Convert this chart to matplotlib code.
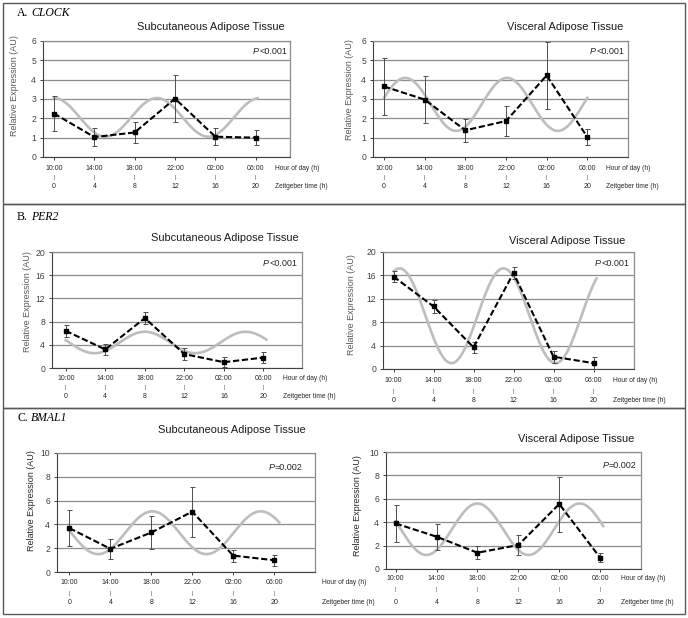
import numpy as np
import matplotlib
matplotlib.use('Agg')
import matplotlib.pyplot as plt
from matplotlib.patches import Rectangle
from matplotlib.transforms import blended_transform_factory

plt.rcParams['font.family'] = ['Liberation Sans', 'DejaVu Sans']

# data
hours = ['10:00', '14:00', '18:00', '22:00', '02:00', '06:00']
zt = [0, 4, 8, 12, 16, 20]

clock_sat = [2.25, 1.03, 1.27, 3.02, 1.05, 1.0]
clock_sat_err = [0.92, 0.48, 0.52, 1.22, 0.45, 0.4]
clock_vat = [3.65, 2.97, 1.38, 1.86, 4.22, 1.03]
clock_vat_err = [1.47, 1.2, 0.6, 0.77, 1.72, 0.4]
per2_sat = [6.4, 3.2, 8.6, 2.4, 1.0, 1.8]
per2_sat_err = [1.0, 1.0, 1.0, 1.0, 0.9, 1.0]
per2_vat = [15.8, 10.7, 3.7, 16.4, 2.1, 1.0]
per2_vat_err = [1.0, 1.1, 1.0, 1.0, 1.0, 1.0]
bmal1_sat = [3.68, 1.95, 3.32, 5.07, 1.38, 0.99]
bmal1_sat_err = [1.5, 0.85, 1.4, 2.1, 0.5, 0.45]
bmal1_vat = [3.89, 2.76, 1.39, 2.05, 5.55, 0.97]
bmal1_vat_err = [1.6, 1.1, 0.55, 0.85, 2.35, 0.4]

# fitted cosinor curves (mesor, amplitude, period h, acrophase ZT h, last ZT)
cos_mesor = [2.05, 2.72, 4.4, 9.1, 3.3, 3.4]
cos_amp = [1.0, 1.37, 1.85, 8.1, 1.8, 2.2]
cos_period = [10.2, 10.0, 10.2, 10.4, 10.6, 10.0]
cos_acro = [0.0, 2.1, 8.0, 0.6, 8.1, 8.0]
cos_end = [20.2, 20.0, 20.3, 20.3, 20.5, 20.3]

p_text = ['<0.001', '<0.001', '<0.001', '<0.001', '=0.002', '=0.002']
titles = ['Subcutaneous Adipose Tissue', 'Visceral Adipose Tissue'] * 3
y_max = [6, 6, 20, 20, 10, 10]
y_step = [1, 1, 4, 4, 2, 2]

series = [clock_sat, clock_vat, per2_sat, per2_vat, bmal1_sat, bmal1_vat]
errors = [clock_sat_err, clock_vat_err, per2_sat_err, per2_vat_err, bmal1_sat_err, bmal1_vat_err]

W, H = 688, 618
fig = plt.figure(figsize=(W / 100, H / 100), dpi=100)
renderer = fig.canvas.get_renderer()

def fx(x):
    return x / W

def fy(y):
    return 1 - y / H

# layout in pixels: axes box (l, t, r, b) and x limits
boxes = [(43, 41, 290, 157), (373, 41, 628, 157),
         (52, 252, 302, 368), (383, 252, 634, 369),
         (57, 453, 315, 572), (386, 452, 641, 569)]
xlims = [(-1.09, 23.4), (-1.08, 24.0), (-1.39, 23.9),
         (-1.05, 24.05), (-1.22, 24.0), (-0.95, 24.0)]
rows = [(168, 177, 187), (168, 177, 187), (378, 388, 397),
        (380, 391, 401), (583, 593, 602), (578, 590, 602)]
axname_x = [275, 606, 283, 613, 322, 621]
title_pos = [(211, 27), (565, 27), (225, 238), (567, 241), (232, 430), (576, 439)]
p_pos = [(287, 52), (624, 52), (297, 263), (629, 263), (302, 468), (636, 465)]
ylab_pos = [(15, 86), (349, 90), (28, 302), (352, 305), (32, 501), (357, 506)]
ylab_col = ['#595959', '#595959', '#595959', '#595959', '#262626', '#262626']

for i in range(6):
    l, t, r, b = boxes[i]
    ax = fig.add_axes([fx(l), fy(b), (r - l) / W, (b - t) / H])
    ax.set_xlim(*xlims[i])
    ax.set_ylim(0, y_max[i])
    ax.set_yticks(np.arange(0, y_max[i] + 0.1, y_step[i]))
    ax.yaxis.grid(True, color='#8c8c8c', lw=0.9)
    ax.set_axisbelow(True)
    ax.set_xticks(zt)
    ax.set_xticklabels([])
    ax.tick_params(axis='x', length=2.5, width=0.7, color='#404040')
    ax.tick_params(axis='y', length=2.5, width=0.7, color='#404040',
                   labelsize=6.2, labelcolor='#404040', pad=2.5)
    for s in ['top', 'right']:
        ax.spines[s].set_color('#8c8c8c')
        ax.spines[s].set_linewidth(0.9)
    for s in ['left', 'bottom']:
        ax.spines[s].set_color('#404040')
        ax.spines[s].set_linewidth(0.8)

    # cosinor fit
    tt = np.linspace(0, cos_end[i], 300)
    yy = cos_mesor[i] + cos_amp[i] * np.cos(2 * np.pi * (tt - cos_acro[i]) / cos_period[i])
    ax.plot(tt, yy, color='#bdbdbd', lw=1.9, zorder=2)

    ax.errorbar(zt, series[i], yerr=errors[i], fmt='none', ecolor='#4d4d4d',
                elinewidth=0.7, capsize=1.8, capthick=0.7, zorder=3)
    ax.plot(zt, series[i], color='black', lw=1.5, ls=(0, (3, 1.3)),
            marker='s', ms=3, zorder=4)

    tr = blended_transform_factory(ax.transData, fig.transFigure)
    for k in range(6):
        ax.text(zt[k], fy(rows[i][0]), hours[k], transform=tr, ha='center',
                va='center', fontsize=5, color='#262626')
        ax.text(zt[k], fy(rows[i][1]), '|', transform=tr, ha='center',
                va='center', fontsize=3.5, color='#404040')
        ax.text(zt[k], fy(rows[i][2]), str(zt[k]), transform=tr, ha='center',
                va='center', fontsize=5, color='#262626')
    fig.text(fx(axname_x[i]), fy(rows[i][0]), 'Hour of day (h)', fontsize=4.8,
             ha='left', va='center', color='#262626')
    fig.text(fx(axname_x[i]), fy(rows[i][2]), 'Zeitgeber time (h)', fontsize=4.8,
             ha='left', va='center', color='#262626')

    fig.text(fx(title_pos[i][0]), fy(title_pos[i][1]), titles[i], fontsize=7.9,
             ha='center', va='center', color='#1a1a1a')

    # P value: italic P + plain rest, right aligned
    rest = fig.text(fx(p_pos[i][0]), fy(p_pos[i][1]), p_text[i], fontsize=6.5,
                    ha='right', va='center', color='#262626')
    x0 = rest.get_window_extent(renderer).x0
    fig.text(x0 / W, fy(p_pos[i][1]), 'P', fontsize=6.5, style='italic',
             ha='right', va='center', color='#262626')

    fig.text(fx(ylab_pos[i][0]), fy(ylab_pos[i][1]), 'Relative Expression (AU)',
             fontsize=6.5, rotation=90, ha='center', va='center', color=ylab_col[i])

# panel labels: roman letter + italic gene name
panel_letters = ['A.', 'B.', 'C.']
panel_genes = ['CLOCK', 'PER2', 'BMAL1']
panel_y = [13, 217, 418]
for k in range(3):
    lt = fig.text(fx(17), fy(panel_y[k]), panel_letters[k], fontsize=8.5,
                  family='Liberation Serif', ha='left', va='center')
    x1 = lt.get_window_extent(renderer).x1
    fig.text((x1 + 3) / W, fy(panel_y[k]), panel_genes[k], fontsize=8.5,
             family='Liberation Serif', style='italic', ha='left', va='center')

# panel frames
frames = [(3, 3, 685, 204), (3, 204, 685, 408), (3, 408, 685, 614)]
for l, t, r, b in frames:
    fig.add_artist(Rectangle((fx(l), fy(b)), (r - l) / W, (b - t) / H,
                             transform=fig.transFigure, fill=False,
                             edgecolor='#595959', lw=1.0))

plt.savefig('out.png', dpi=100)
